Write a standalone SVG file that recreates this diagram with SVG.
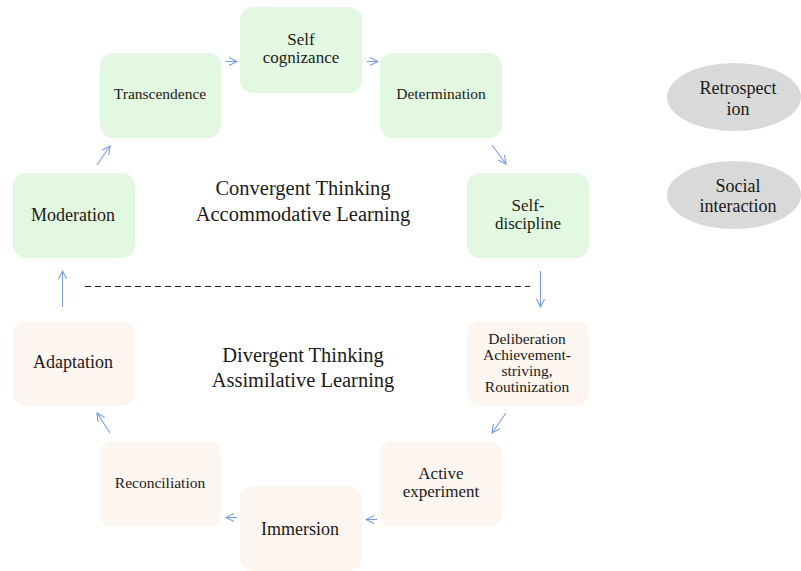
<svg xmlns="http://www.w3.org/2000/svg" width="801" height="571" viewBox="0 0 801 571">
  <defs>
    <marker id="arr" viewBox="0 0 10 10" refX="9" refY="5" markerWidth="10" markerHeight="10" markerUnits="userSpaceOnUse" orient="auto">
      <path d="M1,1 L9,5 L1,9" fill="none" stroke="#7b9de0" stroke-width="1.1"/>
    </marker>
    <style>
      .g { fill: #e3f8e0; }
      .p { fill: #fdf5f0; }
      .e { fill: #d9d9d9; }
      text { font-family: "Liberation Serif", "Times New Roman", serif; fill: #1a1a1a; text-anchor: middle; }
      .s15 { font-size: 15.5px; }
      .s18 { font-size: 18px; }
      .s17 { font-size: 17px; }
      .big { font-size: 20.5px; }
      .c line { stroke: #7b9de0; stroke-width: 1.1; marker-end: url(#arr); }
      .dash { stroke: #222; stroke-width: 1; stroke-dasharray: 6 4; fill: none; }
    </style>
  </defs>
  <rect width="801" height="571" fill="#ffffff"/>

  <!-- upper cycle -->
  <g id="moderation"><rect class="g" x="13" y="173" width="122" height="85" rx="13"/><text class="s18" x="73" y="221">Moderation</text></g>
  <g id="transcendence"><rect class="g" x="100" y="53" width="121" height="85" rx="13"/><text class="s15" x="160" y="99">Transcendence</text></g>
  <g id="self-cognizance"><rect class="g" x="240" y="7" width="122" height="86" rx="13"/><text class="s17" x="301" y="45">Self</text><text class="s17" x="301" y="63">cognizance</text></g>
  <g id="determination"><rect class="g" x="380" y="53" width="122" height="85" rx="13"/><text class="s15" x="441" y="99">Determination</text></g>
  <g id="self-discipline"><rect class="g" x="467" y="173" width="122" height="85" rx="13"/><text class="s17" x="528" y="211">Self-</text><text class="s17" x="528" y="229">discipline</text></g>

  <!-- lower cycle -->
  <g id="deliberation"><rect class="p" x="467" y="321" width="122" height="85" rx="13"/>
    <text class="s15" x="527" y="344">Deliberation</text>
    <text class="s15" x="527" y="360">Achievement-</text>
    <text class="s15" x="527" y="376">striving,</text>
    <text class="s15" x="527" y="392">Routinization</text></g>
  <g id="active-experiment"><rect class="p" x="380" y="441" width="122" height="86" rx="13"/><text class="s17" x="441" y="479">Active</text><text class="s17" x="441" y="497">experiment</text></g>
  <g id="immersion"><rect class="p" x="240" y="486" width="122" height="85" rx="13"/><text class="s18" x="300" y="535">Immersion</text></g>
  <g id="reconciliation"><rect class="p" x="100" y="441" width="121" height="86" rx="13"/><text class="s15" x="160" y="488">Reconciliation</text></g>
  <g id="adaptation"><rect class="p" x="13" y="321" width="122" height="85" rx="13"/><text class="s18" x="73" y="368">Adaptation</text></g>

  <!-- side notes -->
  <g id="retrospection"><ellipse class="e" cx="734" cy="97" rx="67" ry="34"/><text class="s18" x="738" y="94">Retrospect</text><text class="s18" x="738" y="115">ion</text></g>
  <g id="social-interaction"><ellipse class="e" cx="734" cy="195" rx="67" ry="34"/><text class="s18" x="738" y="192">Social</text><text class="s18" x="738" y="212">interaction</text></g>

  <!-- central labels -->
  <g id="convergent"><text class="big" x="303" y="195">Convergent Thinking</text><text class="big" x="303" y="221">Accommodative Learning</text></g>
  <g id="divergent"><text class="big" x="303" y="362">Divergent Thinking</text><text class="big" x="303" y="387">Assimilative Learning</text></g>

  <line class="dash" x1="85" y1="286.5" x2="530" y2="286.5"/>

  <g id="connectors" class="c">
    <line x1="97" y1="165" x2="110" y2="146"/>
    <line x1="226" y1="61.5" x2="237" y2="61.5"/>
    <line x1="367" y1="61.5" x2="378" y2="61.5"/>
    <line x1="492" y1="145" x2="506" y2="164"/>
    <line x1="540.5" y1="271" x2="540.5" y2="307"/>
    <line x1="506" y1="413" x2="492" y2="433"/>
    <line x1="377" y1="519.5" x2="366" y2="519.5"/>
    <line x1="237" y1="517.5" x2="226" y2="517.5"/>
    <line x1="110" y1="433" x2="97" y2="413"/>
    <line x1="62.5" y1="307" x2="62.5" y2="271"/>
  </g>
</svg>
